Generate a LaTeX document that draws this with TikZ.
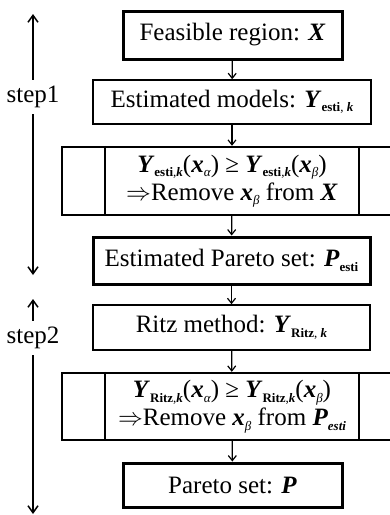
\documentclass[tikz,border=0pt]{standalone}
\usepackage{fontspec}
\setmainfont{Liberation Serif}
\usetikzlibrary{arrows.meta}
\newcommand{\mysb}[1]{\raisebox{-4.5pt}{\fontsize{13}{13}\selectfont #1}}
\newcommand{\vv}[1]{\textbf{\textit{#1}}}
\begin{document}
\begin{tikzpicture}[x=1pt,y=-1pt,
  basebox/.style={draw, inner sep=0pt, align=center, font=\fontsize{25}{28}\selectfont},
  thinbox/.style={basebox, line width=1.6pt},
  thickbox/.style={basebox, line width=3pt},
  splitbox/.style={basebox, line width=2.4pt},
  divider/.style={line width=1.5pt},
  arr/.style={-{Straight Barb[length=5pt,width=8pt]}, line width=1.2pt},
  larr/.style={-{Straight Barb[length=7pt,width=10pt]}, line width=1.5pt},
  lbl/.style={inner sep=6pt, font=\fontsize{25}{28}\selectfont}]
\useasboundingbox (0,0) rectangle (390,515);
\fill[white] (0,0) rectangle (390,515);
% boxes
\node[thickbox, minimum width=219pt, minimum height=48pt] (b1) at (232.5,35) {Feasible region: \vv{X}};
\node[thinbox, minimum width=278pt, minimum height=44pt] (b2) at (232,102) {Estimated models: \vv{Y}\mysb{\textbf{esti}, \textbf{\textit{k}}}};
\node[splitbox, minimum width=340pt, minimum height=68pt] (b3) at (232,181)
  {\vv{Y}\mysb{\textbf{esti},\textbf{\textit{k}}}(\vv{x}\mysb{\textit{α}}) ≥ \vv{Y}\mysb{\textbf{esti},\textbf{\textit{k}}}(\vv{x}\mysb{\textit{β}})\\
   $\Rightarrow$Remove \vv{x}\mysb{\textit{β}} from \vv{X}};
\node[thickbox, minimum width=277pt, minimum height=47pt] (b4) at (231.5,260.5) {Estimated Pareto set: \vv{P}\mysb{\textbf{esti}}};
\node[thinbox, minimum width=277pt, minimum height=45pt] (b5) at (231.5,327.5) {Ritz method: \vv{Y}\mysb{\textbf{Ritz}, \textbf{\textit{k}}}};
\node[splitbox, minimum width=340pt, minimum height=67pt] (b6) at (232,406.5)
  {\vv{Y}\mysb{\textbf{Ritz},\textbf{\textit{k}}}(\vv{x}\mysb{\textit{α}}) ≥ \vv{Y}\mysb{\textbf{Ritz},\textbf{\textit{k}}}(\vv{x}\mysb{\textit{β}})\\
   $\Rightarrow$Remove \vv{x}\mysb{\textit{β}} from \vv{P}\mysb{\textbf{\textit{esti}}}};
\node[thickbox, minimum width=219pt, minimum height=44pt] (b7) at (232.5,485) {Pareto set: \vv{P}};
% dividers in split boxes
\foreach \b in {b3,b6}{
  \draw[divider] ([xshift=44pt]\b.north west) -- ([xshift=44pt]\b.south west);
  \draw[divider] ([xshift=-44pt]\b.north east) -- ([xshift=-44pt]\b.south east);
}
% flow arrows
\draw[arr] (b1) -- (b2);
\draw[arr] (b2) -- (b3);
\draw[arr] (b3) -- (b4);
\draw[arr] (b4) -- (b5);
\draw[arr] (b5) -- (b6);
\draw[arr] (b6) -- (b7);
% step arrows
\node[lbl] (s1) at (33,97) {step1};
\coordinate (s1t) at (33,14);
\coordinate (s1b) at (33,275);
\draw[larr] (s1) -- (s1t);
\draw[larr] (s1) -- (s1b);
\node[lbl] (s2) at (33,338) {step2};
\coordinate (s2t) at (33,299);
\coordinate (s2b) at (33,514);
\draw[larr] (s2) -- (s2t);
\draw[larr] (s2) -- (s2b);
\end{tikzpicture}
\end{document}
